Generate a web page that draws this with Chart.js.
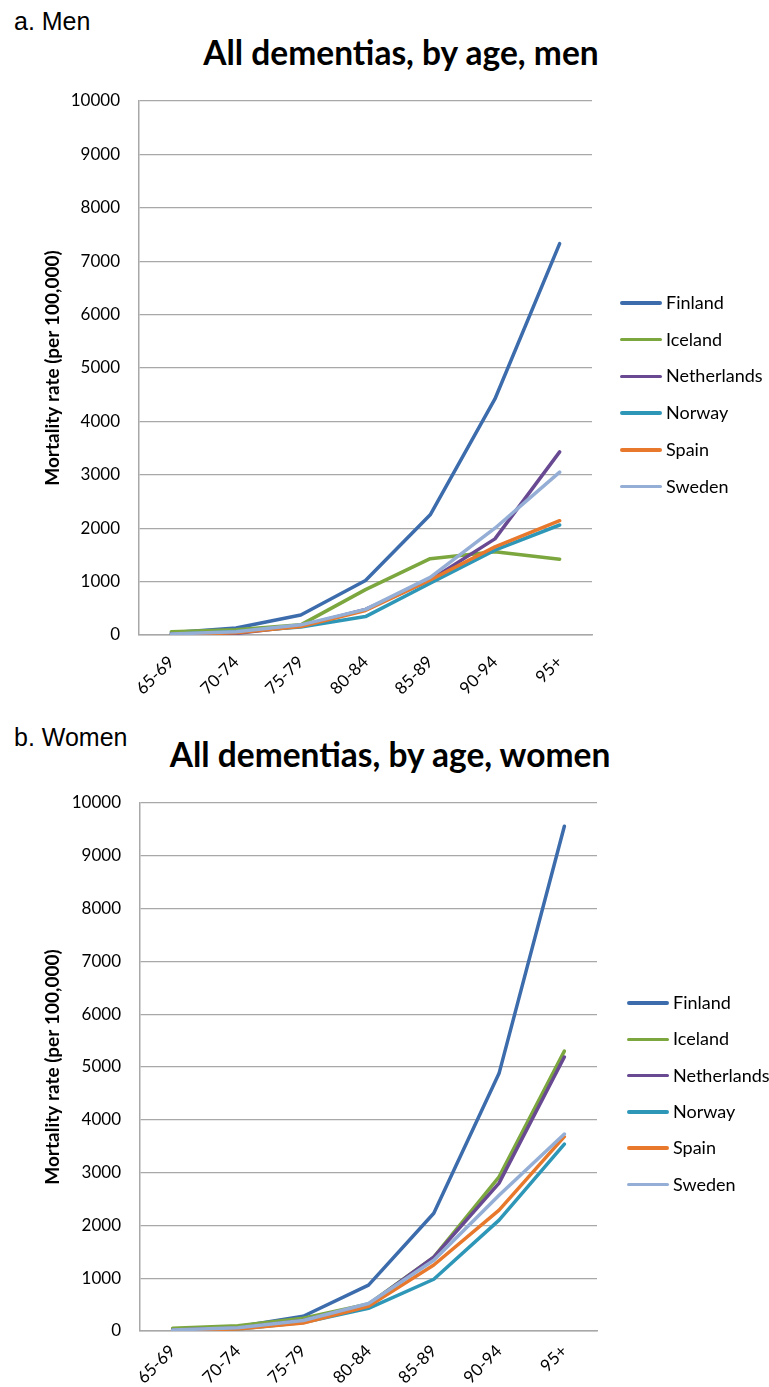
<!DOCTYPE html>
<html>
<head>
<meta charset="utf-8">
<script src="https://cdn.jsdelivr.net/npm/chart.js@4.4.1/dist/chart.umd.min.js"></script>
<style>
  html, body { margin: 0; padding: 0; background: #fff; }
  #wrap { position: relative; width: 769px; height: 1387px; overflow: hidden; background: #fff; }
  canvas { position: absolute; left: 0; }
  .panel-label { position: absolute; left: 14px; font-family: "Liberation Sans", Arial, sans-serif; font-size: 25px; line-height: 1; color: #000; }
  .chart-title { position: absolute; font-family: Lato, "Open Sans", sans-serif; font-weight: bold; font-size: 33.5px; line-height: 1; color: #000; white-space: nowrap; transform: translateX(-50%); }
  .legend { position: absolute; font-family: Lato, sans-serif; font-size: 18px; color: #000; }
  .legend .item { position: absolute; white-space: nowrap; }
  .legend .sw { position: absolute; left: 0; width: 42px; height: 3.5px; border-radius: 2px; }
  .legend .tx { position: absolute; left: 46px; line-height: 1; }
</style>
</head>
<body>
<div id="wrap">
  <div class="panel-label" style="top:9px;">a. Men</div>
  <div class="chart-title" id="title1" style="left:401px; top:36px;">All dementias, by age, men</div>
  <canvas id="c1" width="769" height="700" style="top:0;"></canvas>
  <div class="legend" id="leg1"></div>

  <div class="panel-label" style="top:725px;">b. Women</div>
  <div class="chart-title" id="title2" style="left:390px; top:738px;">All dementias, by age, women</div>
  <canvas id="c2" width="769" height="687" style="top:700px;"></canvas>
  <div class="legend" id="leg2"></div>
</div>
<script>
// ---- data ----
const ageGroups = ['65-69', '70-74', '75-79', '80-84', '85-89', '90-94', '95+'];
const countries = ['Finland', 'Iceland', 'Netherlands', 'Norway', 'Spain', 'Sweden'];
const yTicks = [0, 1000, 2000, 3000, 4000, 5000, 6000, 7000, 8000, 9000, 10000];

const menFinland     = [40, 130, 375, 1020, 2250, 4420, 7330];
const menIceland     = [60, 100, 190, 850, 1430, 1560, 1420];
const menNetherlands = [20, 30, 170, 480, 1030, 1800, 3430];
const menNorway      = [15, 60, 150, 345, 970, 1590, 2060];
const menSpain       = [10, 40, 160, 460, 1030, 1650, 2140];
const menSweden      = [20, 60, 190, 480, 1080, 2000, 3050];

const womenFinland     = [30, 80, 280, 870, 2230, 4880, 9560];
const womenIceland     = [50, 100, 240, 510, 1400, 2920, 5300];
const womenNetherlands = [20, 50, 200, 500, 1400, 2800, 5190];
const womenNorway      = [15, 40, 160, 430, 980, 2100, 3540];
const womenSpain       = [10, 40, 150, 470, 1250, 2290, 3680];
const womenSweden      = [20, 60, 200, 520, 1340, 2570, 3730];

const menSeries = [menFinland, menIceland, menNetherlands, menNorway, menSpain, menSweden];
const womenSeries = [womenFinland, womenIceland, womenNetherlands, womenNorway, womenSpain, womenSweden];

// ---- styles ----
const seriesColors = ['#3C6CAC', '#7CA63E', '#684992', '#2E97B8', '#E8792C', '#94AED6'];
const gridColor = '#A8A8A8';

Chart.defaults.font.family = 'Lato, "Open Sans", sans-serif';
Chart.defaults.color = '#000';

function makeChart(canvasId, series, cfg) {
  const datasets = series.map((vals, i) => ({
    label: countries[i],
    data: vals,
    borderColor: seriesColors[i],
    backgroundColor: seriesColors[i],
    borderWidth: 3.5,
    pointRadius: 0,
    tension: 0,
    fill: false,
    borderCapStyle: 'round',
    borderJoinStyle: 'round',
    order: series.length - i
  }));
  return new Chart(document.getElementById(canvasId), {
    type: 'line',
    data: { labels: ageGroups, datasets },
    options: {
      responsive: false,
      animation: false,
      events: [],
      layout: { padding: { top: cfg.top, right: cfg.right, left: 0, bottom: 0 } },
      plugins: { legend: { display: false }, tooltip: { enabled: false }, title: { display: false } },
      scales: {
        x: {
          offset: true,
          grid: { display: false, drawTicks: false },
          border: { display: true, color: gridColor, width: 1.5 },
          ticks: { autoSkip: false, minRotation: 45, maxRotation: 45, padding: cfg.xPad, font: { size: 17 } },
          afterFit: (s) => { s.height = cfg.xHeight; }
        },
        y: {
          min: yTicks[0],
          max: yTicks[yTicks.length - 1],
          afterBuildTicks: (s) => { s.ticks = yTicks.map(v => ({ value: v })); },
          grid: { color: gridColor, lineWidth: 1.3, drawTicks: false },
          border: { display: true, color: gridColor, width: 1.5 },
          ticks: { padding: 19, font: { size: 17 }, callback: (v) => String(v) },
          title: {
            display: true,
            text: 'Mortality rate (per 100,000)',
            font: { size: 19, weight: 'bold' },
            padding: { top: 41, bottom: 0 }
          },
          afterFit: (s) => { s.width = cfg.left; }
        }
      }
    }
  });
}

function makeLegend(id, left, top, spacing) {
  const el = document.getElementById(id);
  el.style.left = left + 'px';
  el.style.top = top + 'px';
  countries.forEach((name, i) => {
    const item = document.createElement('div');
    item.className = 'item';
    item.style.top = (i * spacing) + 'px';
    const sw = document.createElement('div');
    sw.className = 'sw';
    sw.style.background = seriesColors[i];
    sw.style.top = '-1.75px';
    const tx = document.createElement('div');
    tx.className = 'tx';
    tx.style.top = '-10px';
    tx.textContent = name;
    item.appendChild(sw);
    item.appendChild(tx);
    el.appendChild(item);
  });
}

makeChart('c1', menSeries, { top: 101, right: 177, left: 139, xHeight: 65, xPad: 17 });
makeChart('c2', womenSeries, { top: 103, right: 172, left: 140, xHeight: 56, xPad: 10 });
makeLegend('leg1', 620, 303, 36.7);
makeLegend('leg2', 627, 1003, 36.3);
</script>
</body>
</html>
